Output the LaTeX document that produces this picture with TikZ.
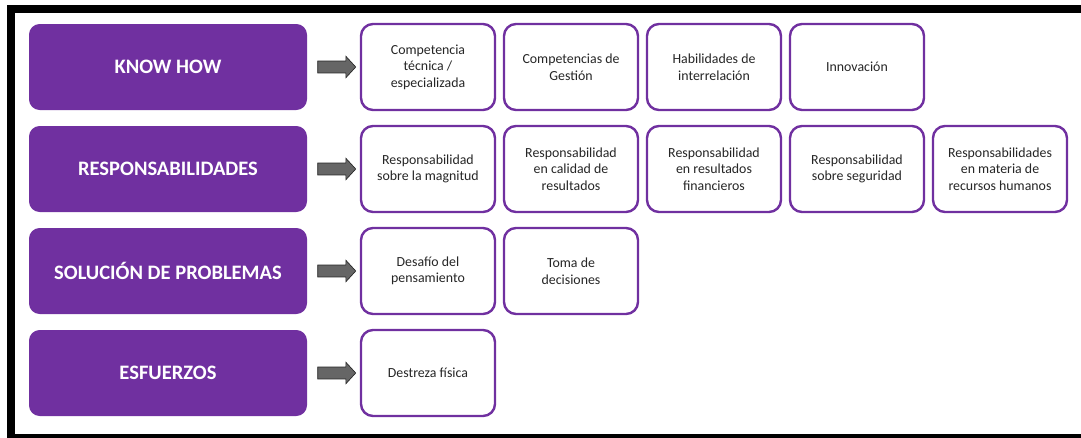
\documentclass[tikz,border=0pt]{standalone}
\usepackage{fontspec}
\setmainfont{Carlito}
\usetikzlibrary{shapes.arrows}

\definecolor{morado}{HTML}{7030A0}

\tikzset{
    factor/.style={rectangle, rounded corners=8pt, fill=morado, text=white,
        font=\fontsize{15.4}{18}\selectfont\bfseries,
        minimum width=208.5pt, minimum height=64.5pt, inner sep=0pt},
    item/.style={rectangle, rounded corners=9pt, draw=morado, line width=1.8pt, fill=white,
        text=black!85, font=\fontsize{10.4}{12.4}\selectfont, align=center,
        minimum width=100.5pt, minimum height=64.5pt, inner sep=0pt},
    flecha/.style={single arrow, draw=black!85, fill=black!60, line width=0.5pt,
        minimum height=28.5pt, inner xsep=0pt, inner ysep=4.2pt,
        single arrow head extend=3.6pt, single arrow tip angle=95}
}

\begin{document}
\begin{tikzpicture}
            \useasboundingbox (0,0) rectangle (810.75pt,-327.75pt);
            \clip (0,0) rectangle (810.75pt,-327.75pt);
            % Frame
            \draw[line width=6pt] (8.25pt,-6.75pt) rectangle (817.5pt,-328.5pt);

            % Nodes
            \node[factor] (know_how) at (126pt,-50.25pt) {KNOW HOW};
            \node[factor, below of=know_how, node distance=76.5pt] (responsabilidades) {RESPONSABILIDADES};
            \node[factor, below of=responsabilidades, node distance=76.5pt] (solucion) {SOLUCIÓN DE PROBLEMAS};
            \node[factor, below of=solucion, node distance=76.5pt] (esfuerzos) {ESFUERZOS};

            \node[item, right of=know_how, node distance=195pt] (competencia) {Competencia\\técnica /\\especializada};
            \node[item, right of=competencia, node distance=107.25pt] (gestion) {Competencias de\\Gestión};
            \node[item, right of=gestion, node distance=107.25pt] (interrelacion) {Habilidades de\\interrelación};
            \node[item, right of=interrelacion, node distance=107.25pt] (innovacion) {Innovación};

            \node[item, right of=responsabilidades, node distance=195pt] (magnitud) {Responsabilidad\\sobre la magnitud};
            \node[item, right of=magnitud, node distance=107.25pt] (calidad) {Responsabilidad\\en calidad de\\resultados};
            \node[item, right of=calidad, node distance=107.25pt] (financieros) {Responsabilidad\\en resultados\\financieros};
            \node[item, right of=financieros, node distance=107.25pt] (seguridad) {Responsabilidad\\sobre seguridad};
            \node[item, right of=seguridad, node distance=107.25pt] (rrhh) {Responsabilidades\\en materia de\\recursos humanos};

            \node[item, right of=solucion, node distance=195pt] (desafio) {Desafío del\\pensamiento};
            \node[item, right of=desafio, node distance=107.25pt] (decisiones) {Toma de\\decisiones};

            \node[item, right of=esfuerzos, node distance=195pt] (destreza) {Destreza física};

            % Arrows
            \node[flecha, right of=know_how, node distance=124.5pt] (flecha_know_how) {};
            \node[flecha, right of=responsabilidades, node distance=124.5pt] (flecha_responsabilidades) {};
            \node[flecha, right of=solucion, node distance=124.5pt] (flecha_solucion) {};
            \node[flecha, right of=esfuerzos, node distance=124.5pt] (flecha_esfuerzos) {};
        \end{tikzpicture}
\end{document}
